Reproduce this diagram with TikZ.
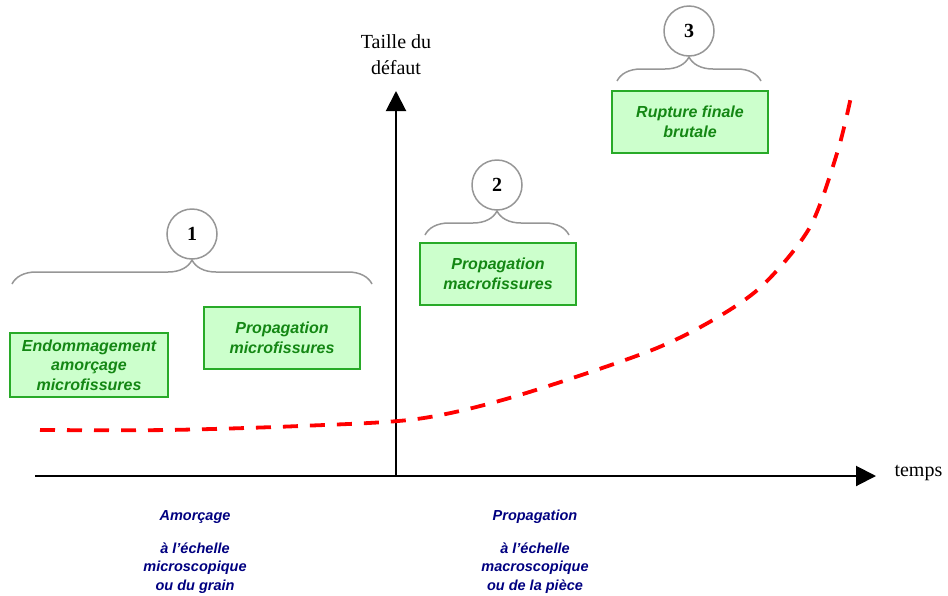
\documentclass[tikz,border=0pt]{standalone}
\usepackage{fontspec}
\setmainfont{Liberation Serif}
\setsansfont{Liberation Sans}
\usepackage{tikz}
\usetikzlibrary{positioning,arrows.meta,decorations.pathreplacing}

\definecolor{boxgreen}{RGB}{40,170,40}
\definecolor{boxfill}{RGB}{204,255,204}
\definecolor{textgreen}{RGB}{20,135,20}
\definecolor{navytext}{RGB}{0,0,128}
\definecolor{bracegray}{RGB}{150,150,150}

\tikzset{
phasebox/.style={draw=boxgreen,fill=boxfill,line width=1.5pt,text=textgreen,
  font=\sffamily\bfseries\itshape\fontsize{16}{19.5}\selectfont,align=center,
  minimum width=156pt,minimum height=62pt,inner sep=2pt},
stepcircle/.style={circle,draw=bracegray,line width=1.5pt,minimum size=50pt,
  inner sep=0pt,font=\bfseries\fontsize{20}{24}\selectfont},
phasebrace/.style={decorate,decoration={brace,amplitude=24pt},draw=bracegray,line width=1.5pt},
scaletext/.style={text=navytext,font=\sffamily\bfseries\itshape\fontsize{14.5}{18.5}\selectfont,align=center},
axis/.style={line width=2pt,-{Triangle[length=20pt,width=20pt]}}
}

\begin{document}
\begin{tikzpicture}[x=1pt,y=-1pt]
\useasboundingbox (0,0) rectangle (948,595);
% axes
\coordinate (o) at (396,476);
\coordinate (xstart) at (35,476);
\coordinate (xend) at (876,476);
\coordinate (yend) at (396,91);
\draw [axis] (xstart) -- (xend);
\draw [axis] (o) -- (yend);
\node [font=\fontsize{20}{26}\selectfont,align=center] (ylabel) at (396,55) {Taille du\\défaut};
\node [font=\fontsize{20}{24}\selectfont,anchor=west] (xlabel) at (891,473) {temps};

% crack size
\draw [red,line width=3.8pt,dash pattern=on 15pt off 12pt]
  plot [smooth] coordinates {(40,430) (167,430) (300,426)
  (417,419) (513,397) (647,352) (713,320) (763,285) (810,227)
  (838,150) (852,92)};

% phases
\node [phasebox,minimum width=158pt,minimum height=64pt] (endo) at (89,365) {Endommagement\\amorçage\\microfissures};
\node [phasebox] (micro) at (282,338) {Propagation\\microfissures};
\node [phasebox] (macro) at (498,274) {Propagation\\macrofissures};
\node [phasebox] (rupture) at (690,122) {Rupture finale\\brutale};

\node [stepcircle] (one) at (192,234) {1};
\node [stepcircle] (two) at (497,185) {2};
\node [stepcircle] (three) at (689,31) {3};

\coordinate (b1l) at (12,284);
\coordinate (b1r) at (372,284);
\coordinate (b2l) at (425,235);
\coordinate (b2r) at (569,235);
\coordinate (b3l) at (617,81);
\coordinate (b3r) at (761,81);
\draw [phasebrace] (b1l) -- (b1r);
\draw [phasebrace] (b2l) -- (b2r);
\draw [phasebrace] (b3l) -- (b3r);

% scales
\node [scaletext] (amorcage) at (195,517) {Amorçage};
\node [scaletext,below=12pt of amorcage] (grain) {à l'échelle\\microscopique\\ou du grain};
\node [scaletext] (propagation) at (535,517) {Propagation};
\node [scaletext,below=12pt of propagation] (piece) {à l'échelle\\macroscopique\\ou de la pièce};
\end{tikzpicture}
\end{document}
